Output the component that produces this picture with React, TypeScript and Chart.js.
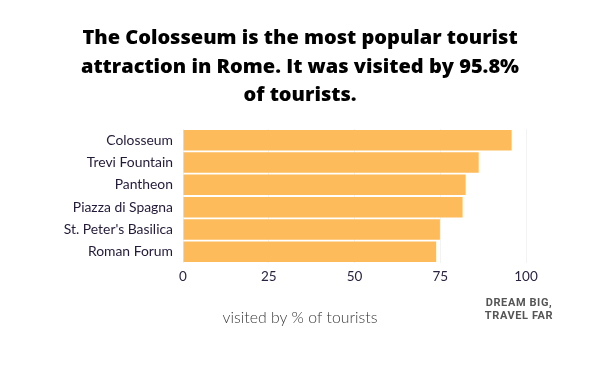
import React, { useEffect, useRef } from "react";
import { Chart, registerables } from "chart.js";

Chart.register(...registerables);

const categories = [
  "Colosseum",
  "Trevi Fountain",
  "Pantheon",
  "Piazza di Spagna",
  "St. Peter's Basilica",
  "Roman Forum",
];
const visitedPct = [95.8, 86.2, 82.4, 81.5, 74.9, 73.8];
const xTicks = [0, 25, 50, 75, 100];
const titleLines = [
  "The Colosseum is the most popular tourist",
  "attraction in Rome. It was visited by 95.8%",
  "of tourists.",
];
const axisTitle = "visited by % of tourists";
const watermarkLines = ["DREAM BIG,", "TRAVEL FAR"];

const textPlugin = {
  id: "extraText",
  afterDraw(chart: any) {
    const ctx = chart.ctx as CanvasRenderingContext2D;
    ctx.save();
    ctx.textAlign = "center";
    ctx.textBaseline = "middle";
    ctx.fillStyle = "#000000";
    ctx.font = "800 20px 'Open Sans'";
    const ty = [38, 67, 95];
    titleLines.forEach((l, i) => ctx.fillText(l, 300, ty[i]));

    ctx.fillStyle = "#3a3a3a";
    ctx.font = "300 15.8px Lato";
    ctx.fillText(axisTitle, 300, 318);

    ctx.fillStyle = "#555555";
    ctx.font = "bold 11px Roboto";
    (ctx as any).letterSpacing = "0.6px";
    const wy = [303, 316];
    watermarkLines.forEach((l, i) => ctx.fillText(l, 519, wy[i]));
    ctx.restore();
  },
};

export default function App() {
  const ref = useRef<HTMLCanvasElement | null>(null);
  useEffect(() => {
    if (!ref.current) return;
    const chart = new Chart(ref.current, {
      type: "bar",
      data: {
        labels: categories,
        datasets: [
          {
            data: visitedPct,
            backgroundColor: "#FDBB5C",
            categoryPercentage: 1,
            barPercentage: 0.92,
          },
        ],
      },
      options: {
        indexAxis: "y",
        animation: false,
        responsive: false,
        maintainAspectRatio: false,
        layout: { padding: { top: 129, right: 74, left: 0, bottom: 0 } },
        plugins: {
          legend: { display: false },
          tooltip: { enabled: false },
          title: { display: false },
        },
        scales: {
          x: {
            min: 0,
            max: 100,
            afterBuildTicks(scale: any) {
              scale.ticks = xTicks.map((v) => ({ value: v }));
            },
            afterFit(scale: any) {
              scale.height = 112;
            },
            grid: { color: "#f3f3f3", drawTicks: false },
            border: { display: false },
            ticks: {
              color: "#2b2340",
              font: { family: "Lato", size: 13.5 },
              padding: 6,
              maxRotation: 0,
            },
          },
          y: {
            afterFit(scale: any) {
              scale.width = 183;
            },
            grid: { display: false, drawTicks: false },
            border: { display: false },
            ticks: {
              color: "#231a38",
              font: { family: "Lato", size: 13.9 },
              padding: 10,
            },
          },
        },
      },
      plugins: [textPlugin],
    });
    return () => chart.destroy();
  }, []);
  return (
    <div style={{ position: "fixed", left: 0, top: 0, width: 600, height: 375, background: "#fff" }}>
      <canvas ref={ref} width={600} height={375} style={{ width: 600, height: 375, display: "block" }} />
    </div>
  );
}
